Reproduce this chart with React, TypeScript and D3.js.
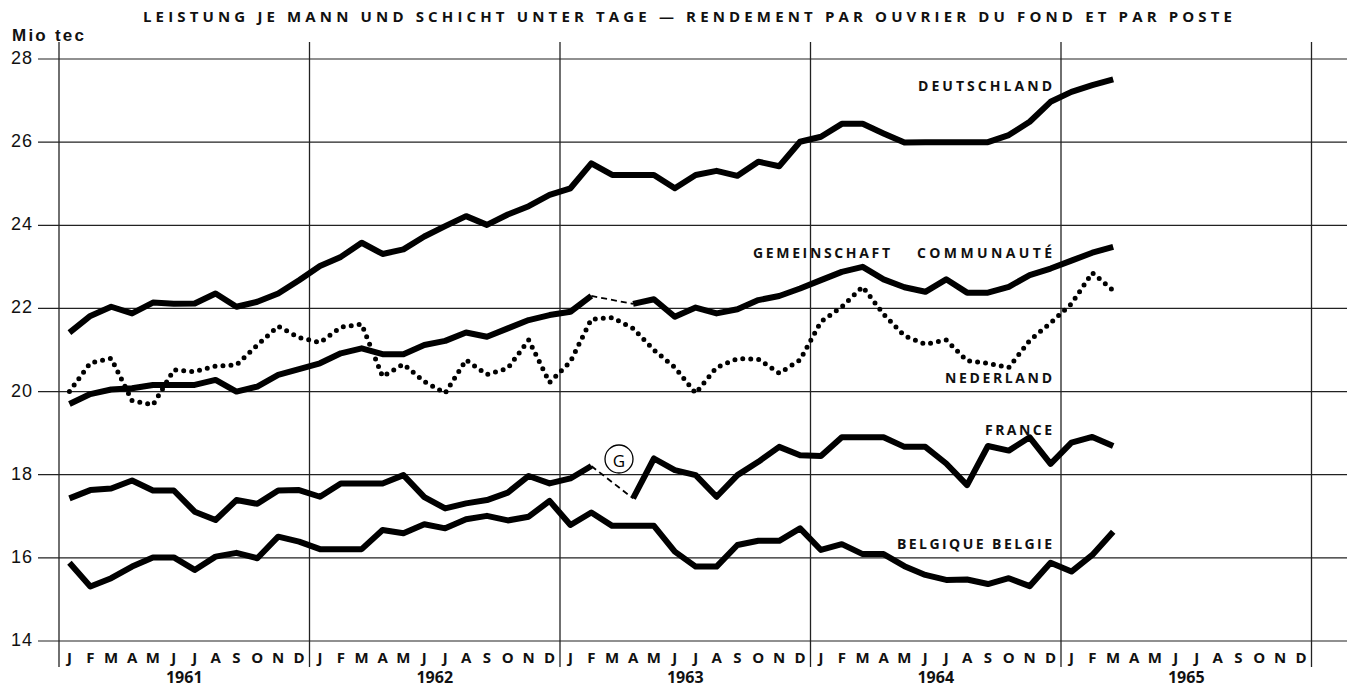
import React from "react";
import * as d3 from "d3";

// ---- data (monthly, Jan 1961 .. Mar 1965) ----
const years = ["1961", "1962", "1963", "1964", "1965"];
const monthLetters = ["J", "F", "M", "A", "M", "J", "J", "A", "S", "O", "N", "D"];
const yTicks = [14, 16, 18, 20, 22, 24, 26, 28];

const deutschland = [
  21.42, 21.82, 22.04, 21.88, 22.14, 22.11, 22.12, 22.36, 22.04, 22.16, 22.36, 22.68,
  23.02, 23.24, 23.58, 23.31, 23.42, 23.73, 23.98, 24.22, 24.01, 24.26, 24.46, 24.73,
  24.89, 25.49, 25.21, 25.21, 25.21, 24.89, 25.21, 25.31, 25.19, 25.53, 25.42, 26.01,
  26.13, 26.44, 26.44, 26.21, 25.99, 26.0, 26.0, 26.0, 26.0, 26.17, 26.49, 26.97,
  27.21, 27.37, 27.51,
];
const gemeinschaft: (number | null)[] = [
  19.7, 19.94, 20.05, 20.08, 20.16, 20.16, 20.16, 20.28, 20.0, 20.12, 20.4, 20.54,
  20.68, 20.92, 21.04, 20.9, 20.9, 21.12, 21.22, 21.42, 21.32, 21.52, 21.72, 21.84,
  21.92, 22.3, null, 22.11, 22.22, 21.8, 22.02, 21.88, 21.98, 22.2, 22.3, 22.48,
  22.68, 22.88, 23.0, 22.7, 22.51, 22.4, 22.7, 22.38, 22.38, 22.52, 22.8, 22.96,
  23.15, 23.34, 23.48,
];
const nederland = [
  20.0, 20.69, 20.8, 19.78, 19.68, 20.52, 20.48, 20.61, 20.64, 21.12, 21.57, 21.3,
  21.18, 21.55, 21.62, 20.36, 20.66, 20.24, 19.96, 20.76, 20.41, 20.56, 21.24, 20.22,
  20.72, 21.74, 21.78, 21.52, 21.0, 20.58, 19.96, 20.58, 20.79, 20.78, 20.44, 20.76,
  21.68, 22.04, 22.52, 21.86, 21.34, 21.14, 21.24, 20.74, 20.68, 20.58, 21.23, 21.65,
  22.11, 22.86, 22.43,
];
const france: (number | null)[] = [
  17.43, 17.63, 17.67, 17.86, 17.62, 17.62, 17.11, 16.91, 17.39, 17.3, 17.62, 17.63,
  17.47, 17.79, 17.79, 17.79, 17.99, 17.46, 17.19, 17.31, 17.39, 17.57, 17.97, 17.79,
  17.91, 18.21, null, 17.43, 18.39, 18.11, 17.99, 17.47, 17.99, 18.31, 18.67, 18.47,
  18.45, 18.9, 18.9, 18.9, 18.67, 18.67, 18.27, 17.75, 18.69, 18.58, 18.9, 18.26,
  18.77, 18.91, 18.69,
];
const belgique = [
  15.88, 15.31, 15.51, 15.79, 16.01, 16.01, 15.71, 16.03, 16.12, 15.99, 16.51, 16.39,
  16.21, 16.21, 16.21, 16.67, 16.59, 16.81, 16.71, 16.93, 17.01, 16.9, 16.99, 17.37,
  16.79, 17.09, 16.77, 16.77, 16.77, 16.15, 15.79, 15.79, 16.31, 16.41, 16.41, 16.71,
  16.19, 16.33, 16.09, 16.09, 15.8, 15.59, 15.47, 15.48, 15.37, 15.51, 15.32, 15.88,
  15.67, 16.07, 16.63,
];

// dashed bridges across the gap (from month index, to month index)
const gapFrom = 25;
const gapTo = 27;

const title =
  "LEISTUNG JE MANN UND SCHICHT UNTER TAGE — RENDEMENT PAR OUVRIER DU FOND ET PAR POSTE";

const W = 1357;
const H = 687;
const X0 = 59;
const X1 = 1311.5;
const YTOP = 59;
const YBOT = 641;

const x = d3.scaleLinear().domain([0, 60]).range([X0, X1]);
const y = d3.scaleLinear().domain([14, 28]).range([YBOT, YTOP]);
const px = (i: number) => x(i + 0.5);

const lineGen = d3
  .line<number | null>()
  .defined((d) => d !== null)
  .x((_, i) => px(i))
  .y((d) => y(d as number));

const labelFont = "'Open Sans', Lato, sans-serif";
const numFont = "'Liberation Sans', Arial, sans-serif";

export default function App() {
  const dashed = (arr: (number | null)[]) =>
    `M${px(gapFrom)},${y(arr[gapFrom] as number)}L${px(gapTo)},${y(arr[gapTo] as number)}`;

  const seriesLabels = [
    { t: "DEUTSCHLAND", x: 1052, y: 85, w: 134 },
    { t: "GEMEINSCHAFT", x: 890, y: 252.5, w: 137 },
    { t: "COMMUNAUTÉ", x: 1052, y: 252.5, w: 135 },
    { t: "NEDERLAND", x: 1052, y: 377, w: 107 },
    { t: "FRANCE", x: 1052, y: 429, w: 67 },
    { t: "BELGIQUE BELGIE", x: 1052, y: 543, w: 155 },
  ];

  return (
    <svg
      width={W}
      height={H}
      style={{ position: "absolute", left: 0, top: 0, background: "#fff" }}
    >
      <rect width={W} height={H} fill="#fff" />
      {/* title */}
      <text
        x={143}
        y={16}
        dominantBaseline="central"
        fontFamily={labelFont}
        fontWeight={700}
        fontSize={15}
        fill="#111"
        textLength={1089}
        lengthAdjust="spacing"
      >
        {title}
      </text>
      <text
        x={12}
        y={41}
        fontFamily={numFont}
        fontWeight={700}
        fontSize={17}
        fill="#111"
        textLength={72}
        lengthAdjust="spacing"
      >
        Mio tec
      </text>

      {/* horizontal grid */}
      {yTicks.map((v) => (
        <g key={v}>
          <line x1={38} x2={1347} y1={y(v)} y2={y(v)} stroke="#222" strokeWidth={1.2} />
          <text
            x={33}
            y={y(v) - 1}
            textAnchor="end"
            dominantBaseline="central"
            fontFamily={numFont}
            fontSize={18}
            fill="#111"
            letterSpacing={1}
          >
            {v}
          </text>
        </g>
      ))}

      {/* vertical year separators */}
      {d3.range(0, 61, 12).map((m) => (
        <line key={m} x1={x(m)} x2={x(m)} y1={42} y2={667} stroke="#222" strokeWidth={1.3} />
      ))}

      {/* month letters */}
      {years.map((yr, yi) =>
        monthLetters.map((ml, mi) => (
          <text
            key={yr + mi}
            x={px(yi * 12 + mi)}
            y={657}
            textAnchor="middle"
            dominantBaseline="central"
            fontFamily={labelFont}
            fontWeight={700}
            fontSize={15}
            fill="#111"
          >
            {ml}
          </text>
        ))
      )}
      {years.map((yr, yi) => (
        <text
          key={yr}
          x={x(yi * 12 + 6)}
          y={677}
          textAnchor="middle"
          dominantBaseline="central"
          fontFamily={labelFont}
          fontWeight={700}
          fontSize={16}
          fill="#111"
        >
          {yr}
        </text>
      ))}

      {/* series */}
      <g fill="none" stroke="#000" strokeLinejoin="round">
        <path d={lineGen(deutschland) as string} strokeWidth={6} />
        <path d={lineGen(gemeinschaft) as string} strokeWidth={6} />
        <path d={lineGen(france) as string} strokeWidth={6} />
        <path d={lineGen(belgique) as string} strokeWidth={6} />
        <path
          d={lineGen(nederland) as string}
          strokeWidth={5}
          strokeLinecap="round"
          strokeDasharray="0 8"
        />
        <path d={dashed(gemeinschaft)} strokeWidth={1.8} strokeDasharray="6 4" />
        <path d={dashed(france)} strokeWidth={1.8} strokeDasharray="6 4" />
      </g>

      {/* G marker */}
      <circle cx={619} cy={459} r={14} fill="#fff" stroke="#000" strokeWidth={1.3} />
      <text
        x={619}
        y={460}
        textAnchor="middle"
        dominantBaseline="central"
        fontFamily="'Open Sans', sans-serif"
        fontSize={17}
        fill="#000"
      >
        G
      </text>

      {/* series labels */}
      {seriesLabels.map((l) => (
        <text
          key={l.t}
          x={l.x - l.w}
          y={l.y}
          dominantBaseline="central"
          fontFamily={labelFont}
          fontWeight={700}
          fontSize={14}
          fill="#111"
          textLength={l.w}
          lengthAdjust="spacing"
        >
          {l.t}
        </text>
      ))}
    </svg>
  );
}
